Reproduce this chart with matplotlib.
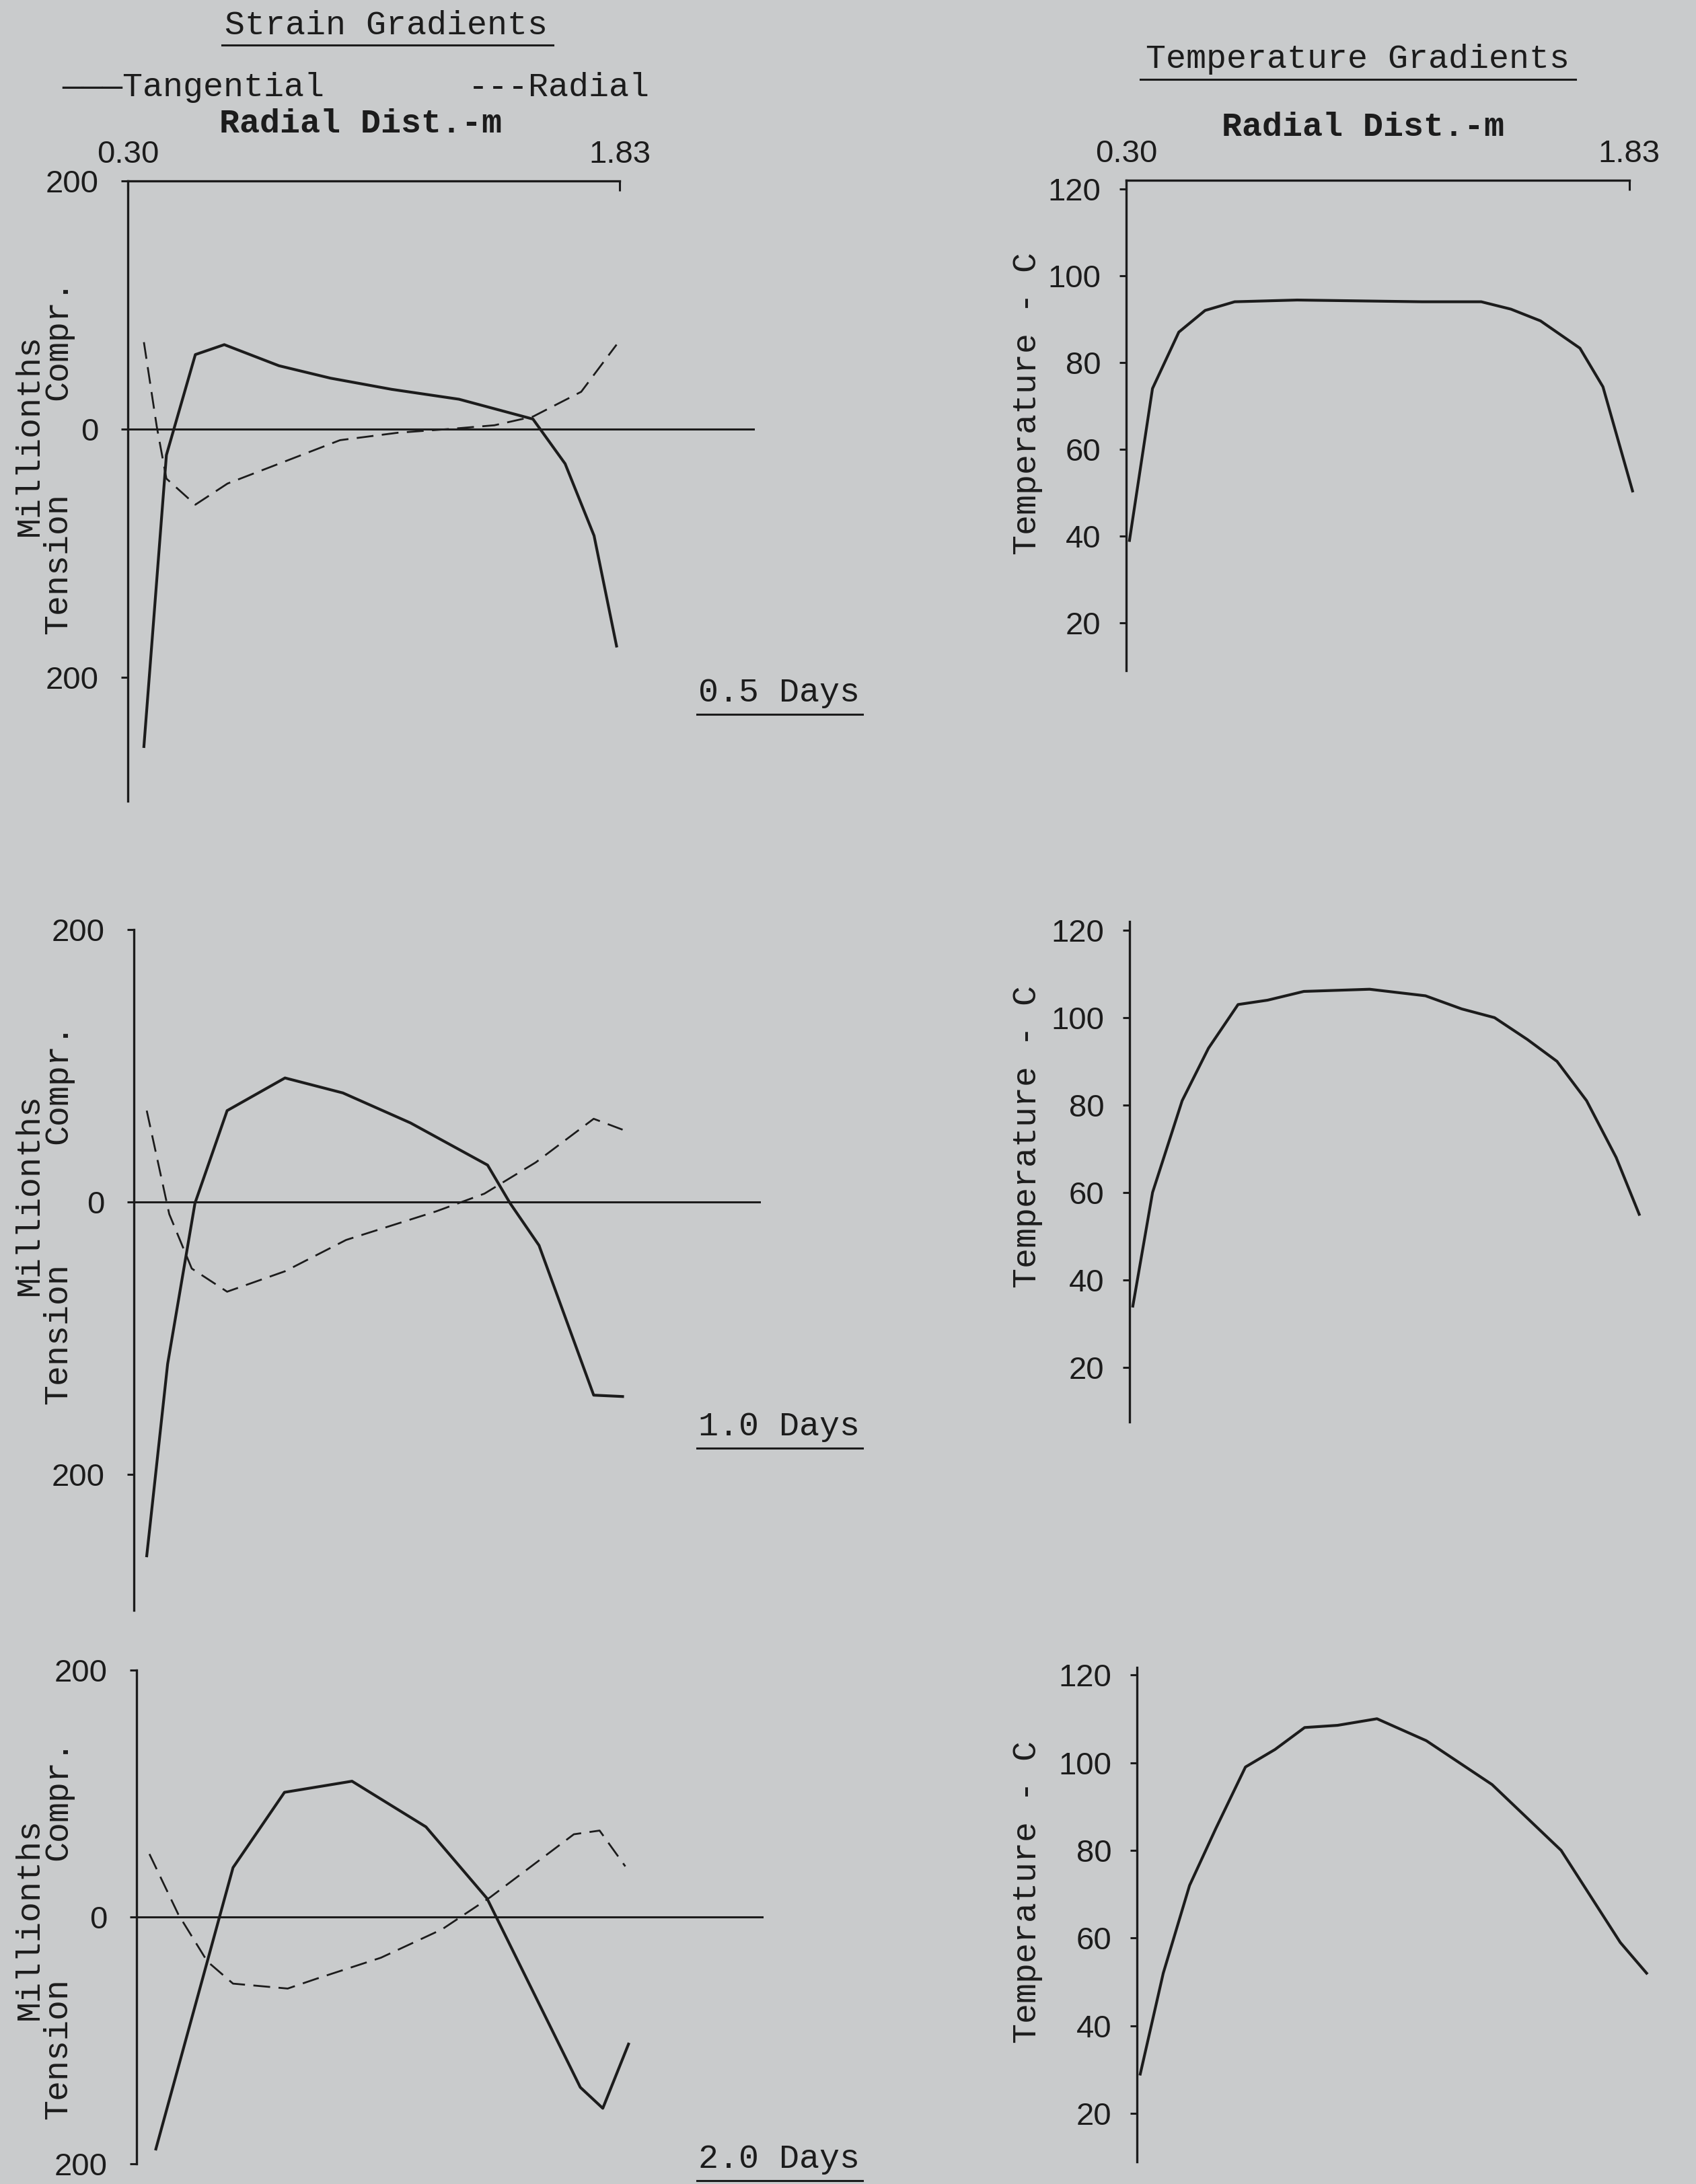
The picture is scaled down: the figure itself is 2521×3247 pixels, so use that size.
import matplotlib
matplotlib.use("Agg")
import matplotlib.pyplot as plt
from matplotlib.lines import Line2D

# ---------------- data ----------------
# Strain gradients, 0.5 days
tang_x_05 = [0.35, 0.42, 0.51, 0.60, 0.77, 0.93, 1.12, 1.33, 1.56, 1.66, 1.75, 1.82]
tang_y_05 = [-256, -21, 60, 68, 51, 41, 32, 24, 8, -28, -86, -175]
rad_x_05 = [0.35, 0.39, 0.42, 0.51, 0.61, 0.77, 0.96, 1.14, 1.30, 1.44, 1.56, 1.71, 1.82]
rad_y_05 = [70, 2, -40, -61, -44, -28, -9, -3, 0, 3, 10, 30, 68]

# Strain gradients, 1.0 days
tang_x_10 = [0.34, 0.405, 0.49, 0.59, 0.77, 0.95, 1.16, 1.40, 1.47, 1.56, 1.73, 1.82]
tang_y_10 = [-260, -119, -1, 67, 91, 80, 58, 27, -1, -32, -142, -143]
rad_x_10 = [0.34, 0.41, 0.48, 0.59, 0.77, 0.96, 1.24, 1.39, 1.55, 1.73, 1.82]
rad_y_10 = [67, -9, -49, -66, -51, -28, -7, 6, 29, 61, 53]

# Strain gradients, 2.0 days
tang_x_20 = [0.36, 0.60, 0.76, 0.97, 1.20, 1.39, 1.68, 1.75, 1.83]
tang_y_20 = [-188, 40, 101, 110, 73, 15, -138, -155, -103]
rad_x_20 = [0.34, 0.43, 0.52, 0.60, 0.77, 0.86, 1.06, 1.25, 1.40, 1.66, 1.74, 1.82]
rad_y_20 = [51, 2, -36, -54, -58, -50, -33, -10, 16, 67, 70, 41]

# Temperature gradients
temp_x_05 = [0.31, 0.38, 0.46, 0.54, 0.63, 0.82, 1.20, 1.38, 1.47, 1.56, 1.68, 1.75, 1.84]
temp_y_05 = [39, 74, 87, 92, 94, 94.4, 94, 94, 92.3, 89.6, 83.3, 74.4, 50.4]
temp_x_10 = [0.31, 0.37, 0.46, 0.54, 0.63, 0.72, 0.83, 1.03, 1.20, 1.31, 1.41, 1.51, 1.60, 1.69, 1.78, 1.85]
temp_y_10 = [34, 60, 81, 93, 103, 104, 106, 106.5, 105, 102, 100, 95, 90, 81, 68, 55]
temp_x_20 = [0.31, 0.38, 0.46, 0.54, 0.63, 0.72, 0.81, 0.91, 1.03, 1.18, 1.38, 1.59, 1.77, 1.85]
temp_y_20 = [29, 52, 72, 85, 99, 103, 108, 108.5, 110, 105, 95, 80, 59, 52]

strain_ticks = [200, 0, -200]
strain_ticklabels = ["200", "0", "200"]
temp_ticks = [120, 100, 80, 60, 40, 20]
temp_ticklabels = ["120", "100", "80", "60", "40", "20"]
dist_ticks = [0.30, 1.83]
dist_ticklabels = ["0.30", "1.83"]
day_labels = ["0.5 Days", "1.0 Days", "2.0 Days"]

# ---------------- styling ----------------
W, H = 2521, 3247
BG = "#c9cbcc"
INK = "#1c1c1c"
MONO = ["Liberation Mono", "DejaVu Sans Mono"]
SANS = ["Liberation Sans", "DejaVu Sans"]

fig = plt.figure(figsize=(W / 100, H / 100), dpi=100)
fig.patch.set_facecolor(BG)


def px_axes(left, top, right, bottom):
    ax = fig.add_axes([left / W, 1 - bottom / H, (right - left) / W, (bottom - top) / H])
    ax.set_facecolor("none")
    return ax


def ftext(x, y, s, size=36, family=MONO, rot=0, weight="normal", ha="center"):
    fig.text(x / W, 1 - y / H, s, ha=ha, va="center", fontsize=size, family=family,
             rotation=rot, color=INK, fontweight=weight)


def underline(x0, x1, y):
    fig.add_artist(Line2D([x0 / W, x1 / W], [1 - y / H, 1 - y / H],
                          transform=fig.transFigure, color=INK, lw=2.2))


def style_axes(ax, yticks, yticklabels, top_axis, ylim_bounds, ypad):
    for s in ["right", "bottom"]:
        ax.spines[s].set_visible(False)
    ax.spines["left"].set_linewidth(2.4)
    ax.spines["left"].set_color(INK)
    ax.spines["left"].set_bounds(*ylim_bounds)
    ax.set_yticks(yticks)
    ax.set_yticklabels(yticklabels)
    ax.tick_params(axis="y", direction="out", length=7, width=2.2, color=INK,
                   labelsize=34, pad=ypad, labelcolor=INK)
    for t in ax.get_yticklabels():
        t.set_family(SANS)
    if top_axis:
        ax.spines["top"].set_linewidth(2.4)
        ax.spines["top"].set_color(INK)
        ax.spines["top"].set_bounds(0.30, 1.83)
        ax.xaxis.set_ticks_position("top")
        ax.set_xticks(dist_ticks)
        ax.set_xticklabels(dist_ticklabels)
        ax.tick_params(axis="x", direction="in", length=11, width=2.2, color=INK,
                       labelsize=34, pad=12, labelcolor=INK)
        for t in ax.get_xticklabels():
            t.set_family(SANS)
    else:
        ax.spines["top"].set_visible(False)
        ax.set_xticks([])


# ---------------- strain panels ----------------
strain_boxes = [(190, 269, 1122, 1191, (-300, 200)),
                (199, 1382, 1131, 2394, (-300, 200)),
                (203, 2483, 1135, 3217, (-200, 200))]
strain_data = [(tang_x_05, tang_y_05, rad_x_05, rad_y_05),
               (tang_x_10, tang_y_10, rad_x_10, rad_y_10),
               (tang_x_20, tang_y_20, rad_x_20, rad_y_20)]
for i, ((l, t, r, b, ylim), (tx, ty, rx, ry)) in enumerate(zip(strain_boxes, strain_data)):
    ax = px_axes(l, t, r, b)
    ax.set_xlim(0.30, 2.25)
    ax.set_ylim(*ylim)
    ax.axhline(0, color=INK, lw=2.2)
    ax.plot(tx, ty, color=INK, lw=3.0, solid_joinstyle="round")
    ax.plot(rx, ry, color=INK, lw=2.0, linestyle=(0, (9, 4.5)))
    style_axes(ax, strain_ticks, strain_ticklabels, i == 0, ylim, 24)

# strain y labels
for mil, ten, com in [(647, 838, 505), (1776, 1983, 1611), (2853, 3046, 2676)]:
    ftext(44, mil, "Millionths", rot=90)
    ftext(86, ten, "Tension", rot=90)
    ftext(86, com, "Compr.", rot=90)

# day labels
for (y, s) in zip([1030, 2121, 3210], day_labels):
    ftext(1158, y, s)
    underline(1036, 1282, y + 32)

# ---------------- temperature panels ----------------
temp_boxes = [(1674, 268, 2456, 997, (9, 122)),
              (1679, 1370, 2461, 2114, (7.5, 122)),
              (1690, 2479, 2472, 3214, (9, 121.7))]
temp_data = [(temp_x_05, temp_y_05), (temp_x_10, temp_y_10), (temp_x_20, temp_y_20)]
for i, ((l, t, r, b, ylim), (x, y)) in enumerate(zip(temp_boxes, temp_data)):
    ax = px_axes(l, t, r, b)
    ax.set_xlim(0.30, 1.90)
    ax.set_ylim(*ylim)
    ax.plot(x, y, color=INK, lw=3.0, solid_joinstyle="round")
    style_axes(ax, temp_ticks, temp_ticklabels, i == 0, ylim, 20)

for yc in [600, 1690, 2813]:
    ftext(1527, yc, "Temperature - C", rot=90)

# ---------------- headings ----------------
ftext(574, 38, "Strain Gradients")
underline(330, 822, 67)
ftext(92, 130, "\u2014\u2014\u2014Tangential", ha="left")
ftext(696, 130, "---Radial", ha="left")
ftext(536, 184, "Radial Dist.-m", weight="bold")

ftext(2018, 88, "Temperature Gradients")
underline(1695, 2342, 118)
ftext(2026, 189, "Radial Dist.-m", weight="bold")

fig.savefig("out.png", dpi=100, facecolor=BG)
